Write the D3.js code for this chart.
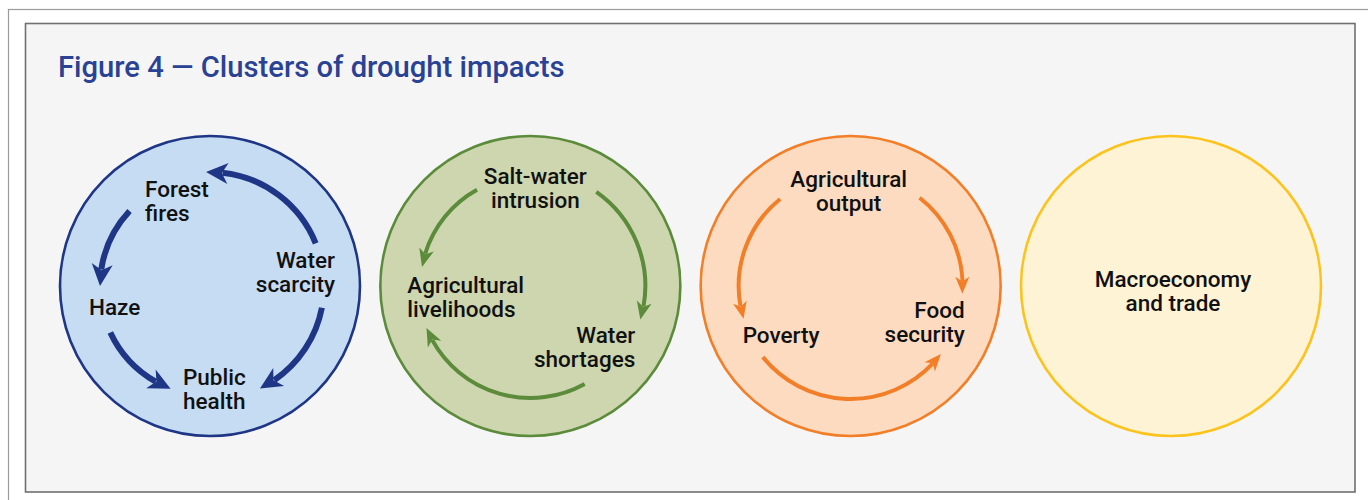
<!DOCTYPE html>
<html>
<head>
<meta charset="utf-8">
<script src="https://cdn.jsdelivr.net/npm/d3@7"></script>
<style>
  html, body { margin: 0; padding: 0; background: #ffffff; }
  svg { display: block; }
  text { font-family: Roboto, "Noto Sans", sans-serif; }
</style>
</head>
<body>
<svg id="chart" width="1368" height="500"></svg>
<script>
// ---------------- DATA ----------------
const titleText = "Figure 4 \u2014 Clusters of drought impacts";

const clusterIds = ["blue", "green", "orange", "yellow"];

// impact labels of each cluster (each label split in lines)
const blueImpacts   = [["Forest", "fires"], ["Water", "scarcity"], ["Haze"], ["Public", "health"]];
const greenImpacts  = [["Salt-water", "intrusion"], ["Agricultural", "livelihoods"], ["Water", "shortages"]];
const orangeImpacts = [["Agricultural", "output"], ["Poverty"], ["Food", "security"]];
const yellowImpacts = [["Macroeconomy", "and trade"]];

// causal links (source index -> target index) within each cluster
const blueLinks   = [[1, 0], [0, 2], [2, 3], [1, 3]];
const greenLinks  = [[0, 1], [0, 2], [2, 1]];
const orangeLinks = [[0, 1], [0, 2], [1, 2]];
const yellowLinks = [];

// ---------------- LAYOUT / STYLE ----------------
const style = {
  blue:   { fill: "#c6dcf2", stroke: "#1f3686", arrow: "#1f3686", aw: 6, headL: 22, headW: 21 },
  green:  { fill: "#cdd6ae", stroke: "#5b8b3b", arrow: "#5b8b3b", aw: 4, headL: 18, headW: 15 },
  orange: { fill: "#fddbc0", stroke: "#f27e28", arrow: "#f27e28", aw: 4, headL: 17, headW: 14 },
  yellow: { fill: "#fff3d6", stroke: "#fcc31c", arrow: "#fcc31c", aw: 4, headL: 17, headW: 14 }
};
// label placement relative to circle centre: dx, baseline dy of first line, anchor
const labelPos = {
  blue:   [[-65, -89, "start"], [125, -18, "end"], [-121, 29, "start"], [-27, 99, "start"]],
  green:  [[5, -102, "middle"], [-123, 7, "start"], [105, 57, "end"]],
  orange: [[-2, -99, "middle"], [-108, 57, "start"], [114, 32, "end"]],
  yellow: [[2, 1, "middle"]]
};
// arrow arcs: [startDeg, endDeg, radius] (screen angle, 0 = east, clockwise positive)
const arcPos = {
  blue:   [[-22, -92, 114], [-137, -180, 110], [155, 111, 110], [11, 64, 114]],
  green:  [[-119, -170, 110], [-55, 17, 115], [61, 158, 112]],
  orange: [[-129, -197, 112], [-52, 4, 112], [141, 37, 113]],
  yellow: []
};

const impacts = { blue: blueImpacts, green: greenImpacts, orange: orangeImpacts, yellow: yellowImpacts };
const links   = { blue: blueLinks,   green: greenLinks,   orange: orangeLinks,   yellow: yellowLinks };

const W = 1368, H = 500;
const svg = d3.select("#chart");

// outer frame (page border) and inner panel
svg.append("rect")
  .attr("x", 8.5).attr("y", 9.5).attr("width", W + 20).attr("height", H + 20)
  .attr("fill", "#ffffff").attr("stroke", "#9a9a9a").attr("stroke-width", 1.2);
svg.append("rect")
  .attr("x", 25.5).attr("y", 23.5).attr("width", 1329.5).attr("height", 468.5)
  .attr("fill", "#f5f5f5").attr("stroke", "#707070").attr("stroke-width", 1.6);

svg.append("text")
  .attr("x", 58).attr("y", 77)
  .attr("fill", "#2a4293")
  .attr("font-size", 29.2).attr("font-weight", 500)
  .text(titleText);

const xScale = d3.scalePoint().domain(clusterIds).range([210, 1171]);
const cy = 286, R = 150;
const lineH = 24;

const rad = d => d * Math.PI / 180;

clusterIds.forEach(id => {
  const cx = xScale(id);
  const st = style[id];
  const g = svg.append("g");

  g.append("circle")
    .attr("cx", cx).attr("cy", cy).attr("r", R)
    .attr("fill", st.fill).attr("stroke", st.stroke).attr("stroke-width", 2.6);

  // arrows
  links[id].forEach((lk, i) => {
    const [a0d, a1d, r] = arcPos[id][i];
    const dir = a1d > a0d ? 1 : -1;
    const a0 = rad(a0d), a1 = rad(a1d);
    const headAng = st.headL / r;
    const aLineEnd = a1 - dir * headAng * 0.75;
    const p = d3.path();
    p.arc(cx, cy, r, a0, aLineEnd, dir < 0);
    g.append("path").attr("d", p.toString())
      .attr("fill", "none").attr("stroke", st.arrow)
      .attr("stroke-width", st.aw);

    const tip = [cx + r * Math.cos(a1), cy + r * Math.sin(a1)];
    const aBase = a1 - dir * headAng;
    const base = [cx + r * Math.cos(aBase), cy + r * Math.sin(aBase)];
    let dx = tip[0] - base[0], dy = tip[1] - base[1];
    const len = Math.hypot(dx, dy); dx /= len; dy /= len;
    const nx = -dy, ny = dx, hw = st.headW / 2;
    const b0 = [tip[0] - dx * st.headL, tip[1] - dy * st.headL];
    const notch = [tip[0] - dx * st.headL * 0.72, tip[1] - dy * st.headL * 0.72];
    const head = d3.path();
    head.moveTo(tip[0], tip[1]);
    head.lineTo(b0[0] + nx * hw, b0[1] + ny * hw);
    head.lineTo(notch[0], notch[1]);
    head.lineTo(b0[0] - nx * hw, b0[1] - ny * hw);
    head.closePath();
    g.append("path").attr("d", head.toString()).attr("fill", st.arrow);
  });

  // labels
  impacts[id].forEach((lines, i) => {
    const [dx, dy, anchor] = labelPos[id][i];
    const t = g.append("text")
      .attr("x", cx + dx).attr("y", cy + dy)
      .attr("text-anchor", anchor)
      .attr("font-size", 22.5).attr("font-weight", 500)
      .attr("fill", "#111111");
    lines.forEach((ln, j) => {
      t.append("tspan").attr("x", cx + dx).attr("dy", j === 0 ? 0 : lineH).text(ln);
    });
  });
});
</script>
</body>
</html>
